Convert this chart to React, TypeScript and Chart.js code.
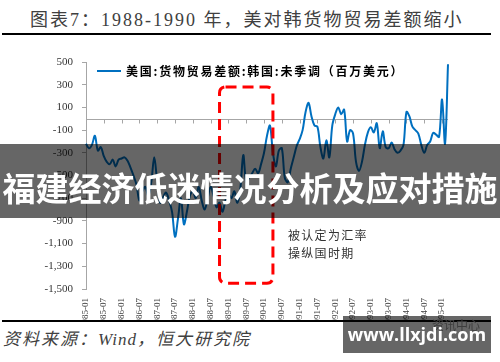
import React, { useEffect, useRef } from 'react';
import { Chart, registerables } from 'chart.js';

Chart.register(...registerables);

// ---- data ----
const START_YEAR = 1985;
const MONTH_COUNT = 123;
const CATEGORIES: string[] = Array.from(
  { length: MONTH_COUNT },
  (_, i) => `${START_YEAR + Math.floor(i / 12)}-${String((i % 12) + 1).padStart(2, '0')}`
);

const TICK_LABELS = [
  '1985-01', '1985-07', '1986-01', '1986-07', '1987-01', '1987-07', '1988-01',
  '1988-07', '1989-01', '1989-07', '1990-01', '1990-07', '1991-01', '1991-07',
  '1992-01', '1992-07', '1993-01', '1993-07', '1994-01', '1994-07', '1995-01',
];

const SERIES_NAME = '美国:货物贸易差额:韩国:未季调（百万美元）';

const TRADE_BALANCE = [
  // 1985
  -220, -260, -230, -150, -280, -250, -330, -380, -400, -360, -420, -360,
  // 1986
  -350, -340, -370, -430, -500, -580, -720, -640, -600, -680, -560, -340,
  // 1987
  -560, -740, -690, -650, -720, -820, -1040, -880, -700, -930, -820, -680,
  // 1988
  -640, -700, -600, -720, -800, -700, -600, -680, -780, -740, -820, -720,
  // 1989
  -660, -700, -640, -740, -620, -320, -560, -520, -480, -440, -480, -400,
  // 1990
  -300, -150, -60, -300, -420, -280, -260, -520, -560, -440, -340, -240,
  // 1991
  -180, -100, 60, 140, 20, -60, -70, -250, -350, -190, -340, -60,
  // 1992
  40, 100, 40, 80, -200, -100, -130, -380, -460, -380, -230, -120,
  // 1993
  -75, -120, -40, -260, -110, -250, -260, -210, -270, -300, -280, -230,
  // 1994
  60, 20, -70, -100, -130, -230, -300, -230, -200, -125, -140, -160,
  // 1995
  170, -220, 480,
];

const Y_MIN = -1500;
const Y_MAX = 500;
const Y_STEP = 200;

const HIGHLIGHT_FROM = '1988-10';
const HIGHLIGHT_TO = '1990-04';
const HIGHLIGHT_TOP = 280;
const HIGHLIGHT_BOTTOM = -1450;

const TITLE = '图表7：1988-1990 年，美对韩货物贸易差额缩小';
const NOTE_LINES = ['被认定为汇率', '操纵国时期'];
const SOURCE_PREFIX = '资料来源：';
const SOURCE_WIND = 'Wind';
const SOURCE_SUFFIX = '，恒大研究院';
const BANNER = '福建经济低迷情况分析及应对措施';
const WATERMARK = 'www.llxjdi.com';
const WATERMARK_SUB = '资讯中心';

// ---- styles ----
const LINE_COLOR = '#0070C0';
const AXIS_COLOR = '#a6a6a6';
const SERIF = "'Liberation Serif', 'Times New Roman', 'Noto Sans CJK SC', serif";
const CJK = "'Noto Sans CJK SC', sans-serif";

const overlayPlugin = {
  id: 'overlayPlugin',
  beforeDatasetsDraw(chart: any) {
    const { ctx, chartArea, scales } = chart;
    const y0 = Math.round(scales.y.getPixelForValue(0)) + 0.5;
    ctx.save();
    ctx.strokeStyle = AXIS_COLOR;
    ctx.lineWidth = 1;
    ctx.beginPath();
    ctx.moveTo(chartArea.left, y0);
    ctx.lineTo(chartArea.right, y0);
    CATEGORIES.forEach((c, i) => {
      if (TICK_LABELS.includes(c)) {
        const x = Math.round(scales.x.getPixelForValue(i)) + 0.5;
        ctx.moveTo(x, y0);
        ctx.lineTo(x, y0 + 4);
      }
    });
    ctx.stroke();
    ctx.restore();
  },
  afterDatasetsDraw(chart: any) {
    const { ctx, scales } = chart;
    const x1 = scales.x.getPixelForValue(CATEGORIES.indexOf(HIGHLIGHT_FROM));
    const x2 = scales.x.getPixelForValue(CATEGORIES.indexOf(HIGHLIGHT_TO));
    const yT = scales.y.getPixelForValue(HIGHLIGHT_TOP);
    const yB = scales.y.getPixelForValue(HIGHLIGHT_BOTTOM);
    ctx.save();
    ctx.strokeStyle = '#ff0000';
    ctx.lineWidth = 3;
    ctx.setLineDash([11, 6]);
    ctx.beginPath();
    if (ctx.roundRect) ctx.roundRect(x1, yT, x2 - x1, yB - yT, 6);
    else ctx.rect(x1, yT, x2 - x1, yB - yT);
    ctx.stroke();
    ctx.restore();
  },
};

export default function App() {
  const canvasRef = useRef<HTMLCanvasElement | null>(null);

  useEffect(() => {
    document.body.style.margin = '0';
    document.body.style.background = '#ffffff';
    const canvas = canvasRef.current;
    if (!canvas) return;
    const chart = new Chart(canvas, {
      type: 'line',
      data: {
        labels: CATEGORIES,
        datasets: [
          {
            label: SERIES_NAME,
            data: TRADE_BALANCE,
            borderColor: LINE_COLOR,
            backgroundColor: LINE_COLOR,
            borderWidth: 2,
            pointRadius: 0,
            tension: 0.35,
            fill: false,
          },
        ],
      },
      options: {
        animation: false,
        responsive: false,
        devicePixelRatio: 1,
        layout: { padding: { top: 22, right: 22, left: 0, bottom: 0 } },
        plugins: {
          legend: { display: false },
          tooltip: { enabled: false },
        },
        scales: {
          x: {
            type: 'category',
            grid: { display: false, drawTicks: false },
            border: { display: false },
            ticks: {
              autoSkip: false,
              minRotation: 90,
              maxRotation: 90,
              padding: 9,
              color: '#404040',
              font: { family: SERIF, size: 9 },
              callback: (_v: any, i: number) =>
                TICK_LABELS.includes(CATEGORIES[i]) ? CATEGORIES[i] : '',
            },
            afterFit: (s: any) => {
              s.height = 31;
            },
          },
          y: {
            min: Y_MIN,
            max: Y_MAX,
            ticks: {
              stepSize: Y_STEP,
              padding: 9,
              color: '#333333',
              font: { family: SERIF, size: 11 },
              callback: (v: any) => Number(v).toLocaleString('en-US'),
            },
            grid: {
              drawOnChartArea: false,
              drawTicks: true,
              tickLength: 4,
              color: AXIS_COLOR,
            },
            border: { color: AXIS_COLOR },
            afterFit: (s: any) => {
              s.width = 86;
            },
          },
        },
      },
      plugins: [overlayPlugin],
    } as any);
    return () => chart.destroy();
  }, []);

  return (
    <div style={{ position: 'relative', width: 500, height: 362, background: '#fff', overflow: 'hidden' }}>
      <div
        style={{
          position: 'absolute', left: 30, top: 8, fontFamily: SERIF, fontSize: 18,
          letterSpacing: 2, color: '#404040', whiteSpace: 'nowrap', lineHeight: '24px',
        }}
      >
        {TITLE}
      </div>
      <div style={{ position: 'absolute', left: 2, top: 33, width: 489, height: 2, background: '#000' }} />

      <canvas
        ref={canvasRef}
        width={470}
        height={280}
        style={{ position: 'absolute', left: 0, top: 40, width: 470, height: 280, display: 'block' }}
      />

      {/* legend */}
      <div style={{ position: 'absolute', left: 97, top: 70, width: 24, height: 2, background: LINE_COLOR }} />
      <div
        style={{
          position: 'absolute', left: 126, top: 63, fontFamily: CJK, fontWeight: 700, fontSize: 12,
          letterSpacing: 1.75, color: '#000', whiteSpace: 'nowrap', lineHeight: '16px',
        }}
      >
        {SERIES_NAME}
      </div>

      {/* note */}
      <div
        style={{
          position: 'absolute', left: 288, top: 226, fontFamily: CJK, fontSize: 12,
          letterSpacing: 1.3, color: '#333', lineHeight: '18px', whiteSpace: 'nowrap',
        }}
      >
        {NOTE_LINES.map((t) => (
          <div key={t}>{t}</div>
        ))}
      </div>

      <div style={{ position: 'absolute', left: 2, top: 320, width: 489, height: 2, background: '#000' }} />

      <div
        style={{
          position: 'absolute', left: 3, top: 329, fontFamily: SERIF, fontSize: 17, fontStyle: 'italic',
          letterSpacing: 2, color: '#404040', whiteSpace: 'nowrap', lineHeight: '22px',
        }}
      >
        {SOURCE_PREFIX}
        <span style={{ letterSpacing: 1 }}>{SOURCE_WIND}</span>
        {SOURCE_SUFFIX}
      </div>

      {/* banner overlay */}
      <div
        style={{
          position: 'absolute', left: 0, top: 144, width: 500, height: 74,
          background: 'rgba(0,0,0,0.6)', color: '#fff', fontFamily: CJK, fontWeight: 700,
          fontSize: 33, lineHeight: '74px', textAlign: 'center', whiteSpace: 'nowrap',
          paddingTop: 6, boxSizing: 'border-box',
        }}
      >
        {BANNER}
      </div>

      {/* watermark */}
      <div
        style={{
          position: 'absolute', left: 432, top: 318, fontFamily: CJK, fontSize: 12,
          color: '#9a9a9a', whiteSpace: 'nowrap', lineHeight: '14px',
        }}
      >
        {WATERMARK_SUB}
      </div>
      <div
        style={{
          position: 'absolute', left: 343, top: 316, width: 148, height: 37,
          background: 'rgba(0,0,0,0.6)', color: '#fff', fontFamily: "'Open Sans', 'Noto Sans', sans-serif",
          fontWeight: 700, fontSize: 18, lineHeight: '37px', textAlign: 'center', whiteSpace: 'nowrap',
        }}
      >
        {WATERMARK}
      </div>
    </div>
  );
}
